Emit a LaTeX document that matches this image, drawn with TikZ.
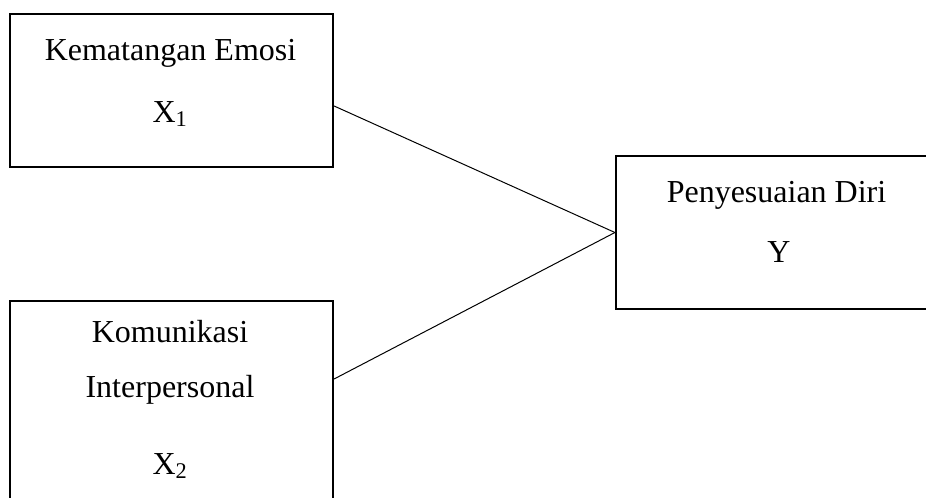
\documentclass[tikz,border=0pt]{standalone}
\usepackage{fontspec}
\setmainfont{Liberation Serif}

\tikzset{every picture/.style={line width=0.75pt}}
\tikzset{varbox/.style={draw, line width=1.6pt, inner sep=0pt, minimum width=242.25pt},
         vartext/.style={anchor=base, inner sep=0.75pt, font=\fontsize{24}{28}\selectfont}}

\begin{document}
\begin{tikzpicture}[x=0.75pt,y=0.75pt,yscale=-1,xscale=1]
\useasboundingbox (0,0) rectangle (926,497); %set diagram to 926 x 497

%Shape: Rectangle [Kematangan Emosi]
\node [varbox, minimum height=114.75pt] (emosi) at (171.5,90.5) {};
%Shape: Rectangle [Komunikasi Interpersonal]
\node [varbox, minimum height=153pt] (komunikasi) at (171.5,403) {};
%Shape: Rectangle [Penyesuaian Diri]
\node [varbox, minimum width=235.5pt, minimum height=114.75pt] (diri) at (773,232.5) {};

%Straight Lines
\draw ([yshift=11.6pt]emosi.east) -- (diri.west) ;
%Straight Lines
\draw ([yshift=-18pt]komunikasi.east) -- (diri.west) ;

% Text Node
\node [vartext] (emosiname) at (170.5,60) {Kematangan Emosi};
% Text Node
\node [vartext] (emosivar) at (170,122) {X\textsubscript{1}};
% Text Node
\node [vartext] (komname) at (170,342) {Komunikasi};
% Text Node
\node [vartext] (komname2) at (170,397) {Interpersonal};
% Text Node
\node [vartext] (komvar) at (170,474) {X\textsubscript{2}};
% Text Node
\node [vartext] (diriname) at (776.5,202) {Penyesuaian Diri};
% Text Node
\node [vartext] (dirivar) at (779,262) {Y};

\end{tikzpicture}
\end{document}
